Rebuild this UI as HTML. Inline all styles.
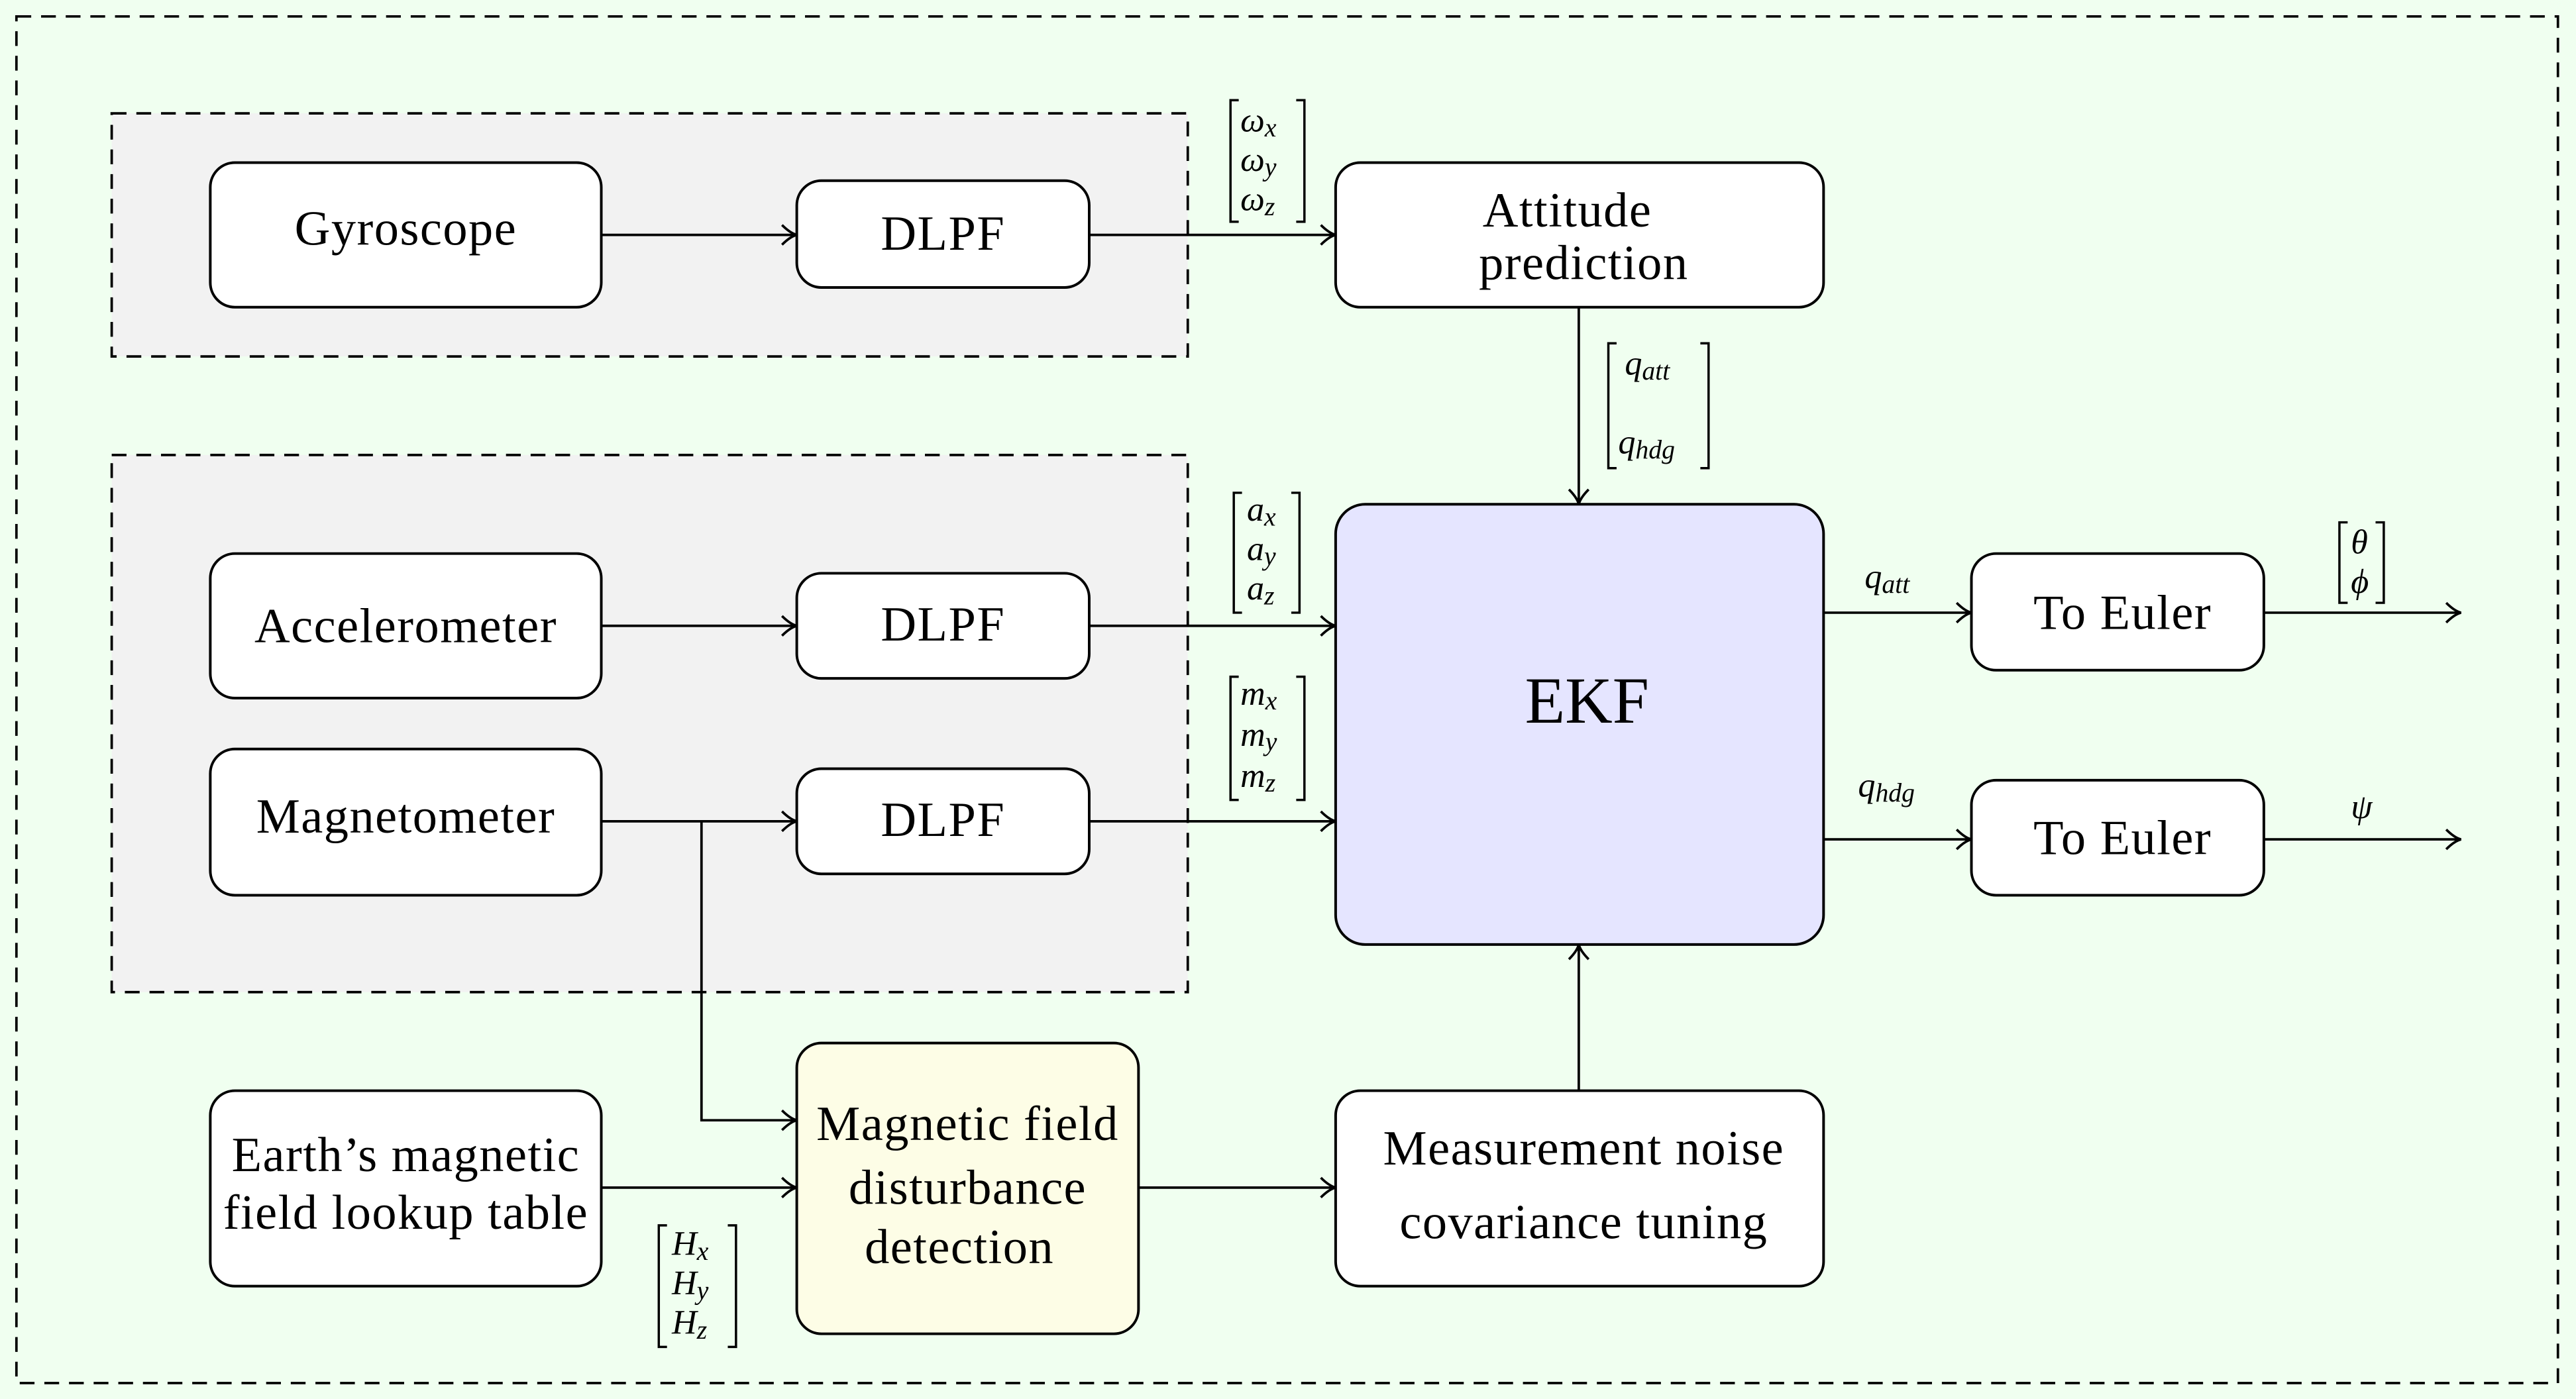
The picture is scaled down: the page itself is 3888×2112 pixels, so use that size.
<!DOCTYPE html>
<html><head><meta charset="utf-8"><style>
html,body{margin:0;padding:0;background:#f0fff0;}
svg{display:block}
text{font-family:"Liberation Serif",serif;fill:#000}
.m{font-style:italic;font-size:21px}
.b{font-size:30px;letter-spacing:0.6px}
</style></head><body>
<svg width="3888" height="2112" viewBox="0 0 1568 851.7" preserveAspectRatio="none" xmlns="http://www.w3.org/2000/svg">
<defs>
<marker id="a" markerWidth="12" markerHeight="14" refX="10" refY="7" orient="auto" markerUnits="userSpaceOnUse">
<path d="M1,1 Q6,6 10,7 Q6,8 1,13" fill="none" stroke="#000" stroke-width="1.5"/>
</marker>
</defs>
<rect x="0" y="0" width="1568" height="852" fill="#f0fff0"/>
<rect x="10" y="10" width="1547" height="832" fill="#f0fff0" stroke="#000" stroke-width="1.5" stroke-dasharray="9,6"/>
<rect x="68" y="69" width="655" height="148" fill="#f2f2f2" stroke="#000" stroke-width="1.5" stroke-dasharray="9,6"/>
<rect x="68" y="277" width="655" height="327" fill="#f2f2f2" stroke="#000" stroke-width="1.5" stroke-dasharray="9,6"/>

<g stroke="#000" stroke-width="1.6">
<rect x="128" y="99" width="238" height="88" rx="15" fill="#fff"/>
<rect x="485" y="110" width="178" height="65" rx="15" fill="#fff"/>
<rect x="813" y="99" width="297" height="88" rx="15" fill="#fff"/>
<rect x="128" y="337" width="238" height="88" rx="15" fill="#fff"/>
<rect x="485" y="349" width="178" height="64" rx="15" fill="#fff"/>
<rect x="128" y="456" width="238" height="89" rx="15" fill="#fff"/>
<rect x="485" y="468" width="178" height="64" rx="15" fill="#fff"/>
<rect x="813" y="307" width="297" height="268" rx="18" fill="#e5e5ff"/>
<rect x="1200" y="337" width="178" height="71" rx="15" fill="#fff"/>
<rect x="1200" y="475" width="178" height="70" rx="15" fill="#fff"/>
<rect x="128" y="664" width="238" height="119" rx="15" fill="#fff"/>
<rect x="485" y="635" width="208" height="177" rx="15" fill="#fdfde6"/>
<rect x="813" y="664" width="297" height="119" rx="15" fill="#fff"/>
</g>

<g stroke="#000" stroke-width="1.5" fill="none" marker-end="url(#a)">
<line x1="366" y1="143" x2="485" y2="143"/>
<line x1="663" y1="143" x2="813" y2="143"/>
<line x1="961" y1="187" x2="961" y2="307"/>
<line x1="366" y1="381" x2="485" y2="381"/>
<line x1="663" y1="381" x2="813" y2="381"/>
<line x1="366" y1="500" x2="485" y2="500"/>
<line x1="663" y1="500" x2="813" y2="500"/>
<polyline points="427,500 427,682 485,682"/>
<line x1="366" y1="723" x2="485" y2="723"/>
<line x1="693" y1="723" x2="813" y2="723"/>
<line x1="961" y1="664" x2="961" y2="575"/>
<line x1="1110" y1="373" x2="1200" y2="373"/>
<line x1="1110" y1="511" x2="1200" y2="511"/>
<line x1="1378" y1="373" x2="1498" y2="373"/>
<line x1="1378" y1="511" x2="1498" y2="511"/>
</g>

<g class="b" text-anchor="middle">
<text x="247" y="149">Gyroscope</text>
<text x="574" y="152">DLPF</text>
<text x="954" y="138">Attitude</text>
<text x="964" y="170">prediction</text>
<text x="247" y="391">Accelerometer</text>
<text x="574" y="390">DLPF</text>
<text x="247" y="507">Magnetometer</text>
<text x="574" y="509">DLPF</text>
<text x="966" y="440" font-size="40" letter-spacing="0">EKF</text>
<text x="1292" y="383">To Euler</text>
<text x="1292" y="520">To Euler</text>
<text x="247" y="713">Earth’s magnetic</text>
<text x="247" y="748">field lookup table</text>
<text x="589" y="694">Magnetic field</text>
<text x="589" y="733">disturbance</text>
<text x="584" y="769">detection</text>
<text x="964" y="709">Measurement noise</text>
<text x="964" y="754">covariance tuning</text>
</g>

<g stroke="#000" stroke-width="1.4" fill="none">
<path d="M754,61 h-5 v74 h5 M789,61 h5 v74 h-5"/>
<path d="M984,209 h-5 v76 h5 M1035,209 h5 v76 h-5"/>
<path d="M756,300 h-5 v73 h5 M786,300 h5 v73 h-5"/>
<path d="M754,412 h-5 v75 h5 M789,412 h5 v75 h-5"/>
<path d="M406,746 h-5 v74 h5 M443,746 h5 v74 h-5"/>
<path d="M1429,318 h-5 v49 h5 M1446,318 h5 v49 h-5"/>
</g>
<g class="m">
<text x="755" y="80">ω<tspan font-size="16" dy="3">x</tspan></text>
<text x="755" y="104">ω<tspan font-size="16" dy="3">y</tspan></text>
<text x="755" y="128">ω<tspan font-size="16" dy="3">z</tspan></text>
<text x="989" y="228">q<tspan font-size="16" dy="3">att</tspan></text>
<text x="985" y="276">q<tspan font-size="16" dy="3">hdg</tspan></text>
<text x="759" y="317">a<tspan font-size="16" dy="3">x</tspan></text>
<text x="759" y="341">a<tspan font-size="16" dy="3">y</tspan></text>
<text x="759" y="365">a<tspan font-size="16" dy="3">z</tspan></text>
<text x="755" y="429">m<tspan font-size="16" dy="3">x</tspan></text>
<text x="755" y="454">m<tspan font-size="16" dy="3">y</tspan></text>
<text x="755" y="479">m<tspan font-size="16" dy="3">z</tspan></text>
<text x="409" y="764">H<tspan font-size="16" dy="3">x</tspan></text>
<text x="409" y="788">H<tspan font-size="16" dy="3">y</tspan></text>
<text x="409" y="812">H<tspan font-size="16" dy="3">z</tspan></text>
<text x="1431" y="337">θ</text>
<text x="1431" y="361">ϕ</text>
<text x="1135" y="358">q<tspan font-size="16" dy="3">att</tspan></text>
<text x="1131" y="485">q<tspan font-size="16" dy="3">hdg</tspan></text>
<text x="1431" y="498">ψ</text>
</g>
</svg>
</body></html>
